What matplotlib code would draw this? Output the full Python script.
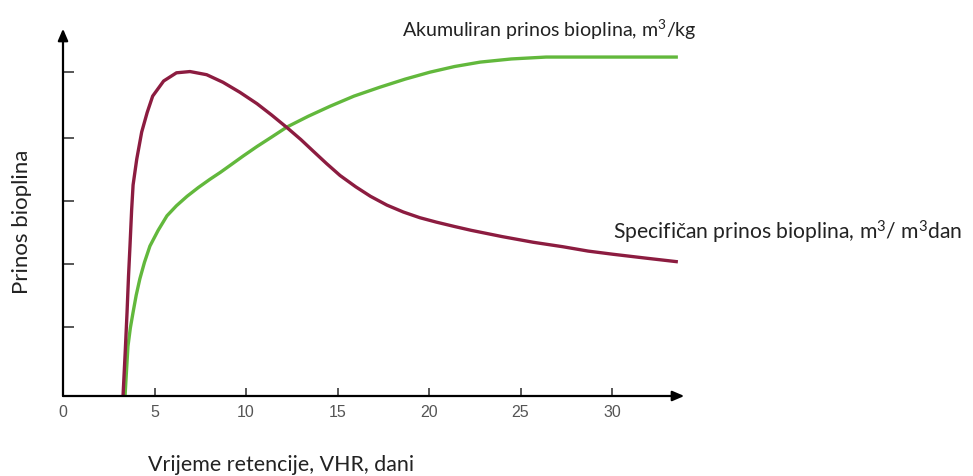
import matplotlib
matplotlib.use("Agg")
import matplotlib.pyplot as plt

plt.rcParams["mathtext.fontset"] = "custom"
plt.rcParams["mathtext.rm"] = "Lato"
plt.rcParams["mathtext.it"] = "Lato:italic"
plt.rcParams["mathtext.default"] = "regular"

# retention time (days) and relative yield
x_specific = [3.28, 3.4, 3.5, 3.58, 3.66, 3.75, 3.83, 4.03, 4.3, 4.6, 4.9, 5.5, 6.2, 6.94,
              7.85, 8.74, 9.67, 10.6, 11.4, 12.24, 13.0, 13.66, 14.4, 15.14, 16.0, 16.8,
              17.7, 18.6, 19.5, 20.4, 21.4, 22.3, 24.0, 25.7, 27.3, 28.7, 30.05, 31.8, 33.6]
y_specific = [0.0, 0.7, 1.33, 1.9, 2.38, 2.95, 3.35, 3.76, 4.19, 4.5, 4.76, 5.0, 5.13, 5.15,
              5.1, 4.98, 4.82, 4.64, 4.46, 4.26, 4.07, 3.89, 3.69, 3.5, 3.32, 3.17,
              3.03, 2.92, 2.83, 2.76, 2.69, 2.63, 2.53, 2.44, 2.37, 2.3, 2.25, 2.19, 2.13]

x_accum = [3.39, 3.47, 3.55, 3.68, 3.83, 4.0, 4.2, 4.45, 4.75, 5.2, 5.68, 6.2, 6.78, 7.4,
           8.03, 8.6, 9.13, 9.85, 10.6, 11.4, 12.24, 13.4, 14.6, 15.9, 17.3, 18.7, 20.05,
           21.4, 22.8, 24.5, 26.4, 30.0, 33.6]
y_accum = [0.0, 0.4, 0.79, 1.08, 1.33, 1.6, 1.86, 2.12, 2.38, 2.63, 2.86, 3.02, 3.17, 3.31,
           3.44, 3.55, 3.66, 3.81, 3.96, 4.11, 4.27, 4.44, 4.6, 4.76, 4.9, 5.03, 5.14,
           5.23, 5.3, 5.35, 5.38, 5.38, 5.38]

x_ticks = [0, 5, 10, 15, 20, 25, 30]
y_ticks = [1.1, 2.1, 3.1, 4.1, 5.15]

label_acc = "Akumuliran prinos bioplina, m$^{3}$/kg"
label_spec = "Specifi\u010dan prinos bioplina, m$^{3}$/ m$^{3}$dan"

W, H = 973, 477
fig = plt.figure(figsize=(W / 100, H / 100), dpi=100)
ax = fig.add_axes([63 / W, (H - 397) / H, (705 - 63) / W, (397 - 25) / H])
ax.set_xlim(0, (705 - 63) / 18.3)
ax.set_ylim(0, (397 - 25) / 63)

ax.plot(x_accum, y_accum, color="#62b83c", lw=2.4, solid_capstyle="butt",
        solid_joinstyle="round", clip_on=False)
ax.plot(x_specific, y_specific, color="#8c1c40", lw=2.4, solid_capstyle="butt",
        solid_joinstyle="round", clip_on=False)

for s in ax.spines.values():
    s.set_visible(False)

axis_col = "#3a3a3a"
arrow = dict(arrowstyle="-|>,head_length=0.7,head_width=0.3", color="black", lw=1.6,
             shrinkA=0, shrinkB=0)
ax.annotate("", xy=(33.95, 0), xytext=(0, 0), arrowprops=arrow, annotation_clip=False)
ax.annotate("", xy=(0, 5.83), xytext=(0, 0), arrowprops=arrow, annotation_clip=False)

ax.set_xticks(x_ticks)
ax.set_xticklabels([str(t) for t in x_ticks], fontfamily="Liberation Sans", fontsize=11.5, color="#555555")
ax.tick_params(axis="x", direction="in", length=6, width=1.2, color=axis_col, pad=6)
ax.set_yticks(y_ticks)
ax.set_yticklabels([])
ax.tick_params(axis="y", direction="in", length=8, width=1.2, color=axis_col)

txt = dict(fontfamily="Lato", color="#222222")
fig.text(22 / W, 1 - 222 / H, "Prinos bioplina", rotation=90, ha="center", va="center", fontsize=16, **txt)
fig.text(148 / W, 1 - 465 / H, "Vrijeme retencije, VHR, dani", ha="left", va="center", fontsize=15.4, **txt)
fig.text(402 / W, 1 - 30 / H, label_acc, ha="left", va="center", fontsize=14.1, **txt)
fig.text(613 / W, 1 - 232 / H, label_spec, ha="left", va="center", fontsize=15.2, **txt)

fig.savefig("out.png", dpi=100, facecolor="white")
